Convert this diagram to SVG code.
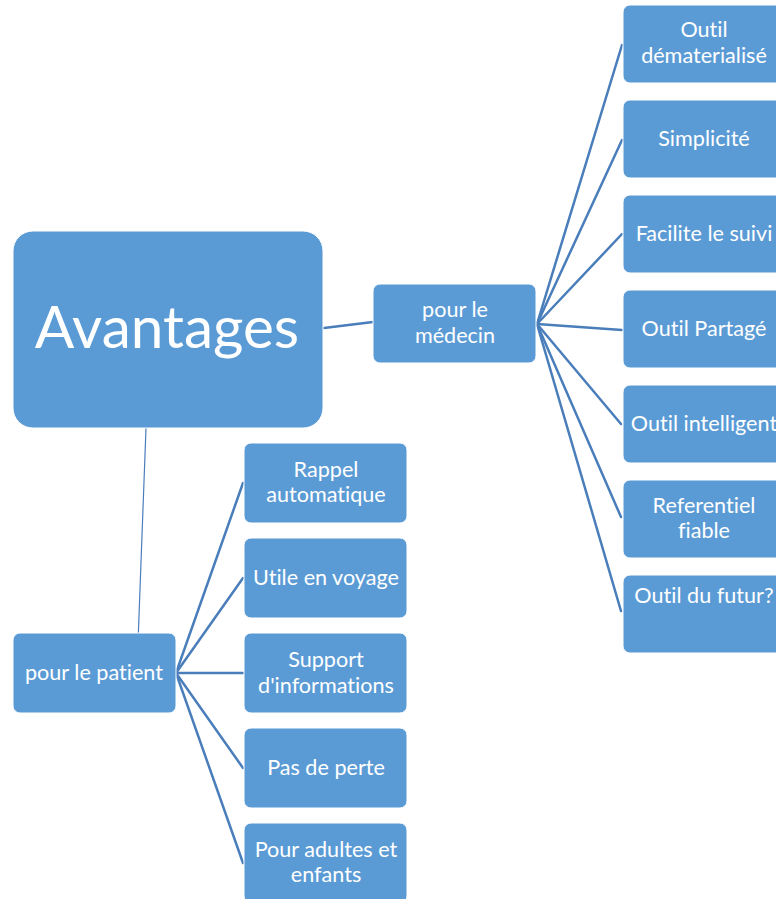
<svg xmlns="http://www.w3.org/2000/svg" width="776" height="899" viewBox="0 0 776 899">
<style>
.box{fill:#5B9BD5;stroke:#ffffff;stroke-width:1}
.t{font-family:Lato,"Open Sans","Liberation Sans",sans-serif;font-size:21.6px;fill:#ffffff;text-anchor:middle;font-variant-ligatures:none;font-feature-settings:"liga" 0,"clig" 0}
.big{font-size:58.5px}
.c{stroke:#4A7EBB;stroke-width:2.5;fill:none;stroke-linecap:round}
.thin{stroke-width:1.2}
</style>
<rect width="776" height="899" fill="#ffffff"/>
<g id="connectors">
<line class="c" x1="324" y1="328" x2="373" y2="322"/>
<line class="c thin" x1="146" y1="428" x2="138" y2="643"/>
<line class="c" x1="537" y1="324" x2="622" y2="45"/>
<line class="c" x1="537" y1="324" x2="622" y2="140"/>
<line class="c" x1="537" y1="324" x2="622" y2="234"/>
<line class="c" x1="537" y1="324" x2="622" y2="330"/>
<line class="c" x1="537" y1="324" x2="621" y2="424"/>
<line class="c" x1="537" y1="324" x2="621" y2="517"/>
<line class="c" x1="537" y1="324" x2="621" y2="611"/>
<line class="c" x1="176" y1="673" x2="243" y2="483"/>
<line class="c" x1="176" y1="673" x2="243" y2="578"/>
<line class="c" x1="176" y1="673" x2="243" y2="673"/>
<line class="c" x1="176" y1="673" x2="243" y2="768"/>
<line class="c" x1="176" y1="673" x2="243" y2="863"/>
</g>
<g id="avantages">
<rect class="box" x="13" y="231" width="310" height="197" rx="20"/>
<text class="t big" x="167" y="348">Avantages</text>
</g>
<g id="medecin">
<rect class="box" x="373" y="284" width="163" height="79" rx="7"/>
<text class="t" x="455" y="317">pour le</text>
<text class="t" x="455" y="343">médecin</text>
</g>
<g id="n-dematerialise">
<rect class="box" x="623" y="5" width="162" height="78" rx="7"/>
<text class="t" x="704" y="37">Outil</text>
<text class="t" x="704" y="63">dématerialisé</text>
</g>
<g id="n-simplicite">
<rect class="box" x="623" y="100" width="162" height="78" rx="7"/>
<text class="t" x="704" y="146">Simplicité</text>
</g>
<g id="n-suivi">
<rect class="box" x="623" y="195" width="162" height="78" rx="7"/>
<text class="t" x="704" y="241">Facilite le suivi</text>
</g>
<g id="n-partage">
<rect class="box" x="623" y="290" width="162" height="78" rx="7"/>
<text class="t" x="704" y="336">Outil Partagé</text>
</g>
<g id="n-intelligent">
<rect class="box" x="623" y="385" width="162" height="78" rx="7"/>
<text class="t" x="704" y="431">Outil intelligent</text>
</g>
<g id="n-referentiel">
<rect class="box" x="623" y="480" width="162" height="78" rx="7"/>
<text class="t" x="704" y="513">Referentiel</text>
<text class="t" x="704" y="538">fiable</text>
</g>
<g id="n-futur">
<rect class="box" x="623" y="575" width="162" height="78" rx="7"/>
<text class="t" x="704" y="603">Outil du futur?</text>
</g>
<g id="patient">
<rect class="box" x="13" y="633" width="163" height="80" rx="7"/>
<text class="t" x="94" y="680">pour le patient</text>
</g>
<g id="n-rappel">
<rect class="box" x="244" y="443" width="163" height="80" rx="7"/>
<text class="t" x="326" y="477">Rappel</text>
<text class="t" x="326" y="502">automatique</text>
</g>
<g id="n-voyage">
<rect class="box" x="244" y="538" width="163" height="80" rx="7"/>
<text class="t" x="326" y="585">Utile en voyage</text>
</g>
<g id="n-support">
<rect class="box" x="244" y="633" width="163" height="80" rx="7"/>
<text class="t" x="326" y="667">Support</text>
<text class="t" x="326" y="693">d'informations</text>
</g>
<g id="n-perte">
<rect class="box" x="244" y="728" width="163" height="80" rx="7"/>
<text class="t" x="326" y="775">Pas de perte</text>
</g>
<g id="n-adultes">
<rect class="box" x="244" y="823" width="163" height="80" rx="7"/>
<text class="t" x="326" y="857">Pour adultes et</text>
<text class="t" x="326" y="882">enfants</text>
</g>
</svg>
